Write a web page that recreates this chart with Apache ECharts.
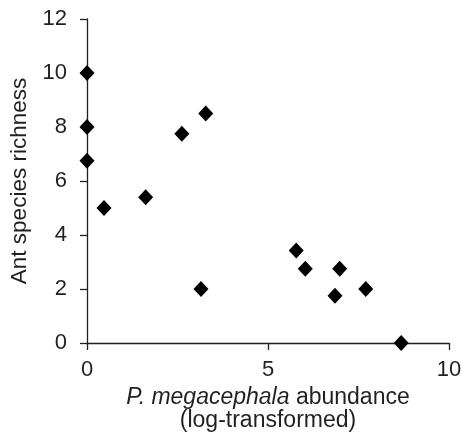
<!DOCTYPE html>
<html>
<head>
<meta charset="utf-8">
<script src="https://cdn.jsdelivr.net/npm/echarts@6/dist/echarts.min.js"></script>
<style>
  html, body { margin: 0; padding: 0; background: #fff; }
  #chart { width: 462px; height: 437px; }
</style>
</head>
<body>
<div id="chart"></div>
<script>
// P. megacephala abundance (log) vs ant species richness
const abundance = [0, 0, 0, 0.47, 1.62, 2.62, 3.28, 3.15, 5.78, 6.03, 6.98, 6.85, 7.7, 8.68]
const richness = [10, 8, 6.75, 5, 5.4, 7.75, 8.5, 2, 3.43, 2.75, 2.75, 1.75, 2, 0]

const xTicks = [0, 5, 10]
const yTicks = [0, 2, 4, 6, 8, 10, 12]

const points = abundance.map((x, i) => [x, richness[i]])

const ink = '#231f20'
const font = '"Liberation Sans", Arial, sans-serif'

const chart = echarts.init(document.getElementById('chart'))

chart.setOption({
  animation: false,
  backgroundColor: '#fff',
  grid: { left: 87, right: 13, top: 19, bottom: 94, outerBoundsMode: 'none' },
  xAxis: {
    type: 'value',
    min: xTicks[0],
    max: xTicks[xTicks.length - 1],
    interval: 5,
    splitLine: { show: false },
    axisLine: { lineStyle: { color: ink, width: 1.3 } },
    axisTick: { show: true, length: 7, lineStyle: { color: ink, width: 1.3 } },
    axisLabel: { color: ink, fontSize: 22, fontFamily: font, margin: 16 },
    name: '{i|P. megacephala} abundance\n(log-transformed)',
    nameLocation: 'middle',
    nameGap: 33,
    nameTextStyle: {
      color: ink, fontSize: 23, fontFamily: font, lineHeight: 23, verticalAlign: 'top',
      rich: {
        i: { fontStyle: 'italic', color: ink, fontSize: 23, fontFamily: font, lineHeight: 23 }
      }
    }
  },
  yAxis: {
    type: 'value',
    min: yTicks[0],
    max: yTicks[yTicks.length - 1],
    interval: 2,
    splitLine: { show: false },
    axisLine: { lineStyle: { color: ink, width: 1.3 } },
    axisTick: { show: true, length: 7, lineStyle: { color: ink, width: 1.3 } },
    axisLabel: { color: ink, fontSize: 22, fontFamily: font, margin: 20 },
    name: 'Ant species richness',
    nameLocation: 'middle',
    nameGap: 52,
    nameTextStyle: { color: ink, fontSize: 22.5, fontFamily: font }
  },
  series: [{
    type: 'scatter',
    data: points,
    symbol: 'diamond',
    symbolSize: [15, 16],
    clip: false,
    itemStyle: { color: '#000', opacity: 1 }
  }]
})
</script>
</body>
</html>
